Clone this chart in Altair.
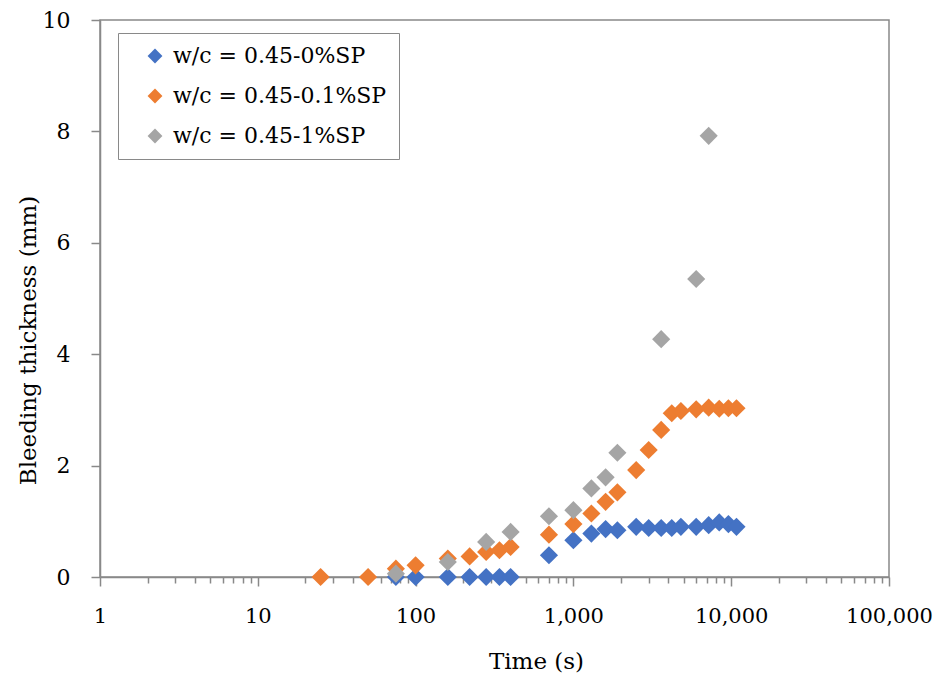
import altair as alt
import pandas as pd

# Bleeding thickness vs time, three superplasticiser dosages
series_names = ['w/c = 0.45-0%SP', 'w/c = 0.45-0.1%SP', 'w/c = 0.45-1%SP']
series_colors = ['#4472C4', '#ED7D31', '#A5A5A5']

time_0sp = [75, 100, 160, 220, 280, 340, 400, 700, 1000, 1300, 1600, 1900,
            2500, 3000, 3600, 4200, 4800, 6000, 7200, 8400, 9600, 10800]
bleed_0sp = [0, 0, 0, 0, 0, 0, 0, 0.39, 0.66, 0.78, 0.86, 0.84,
             0.90, 0.88, 0.88, 0.88, 0.90, 0.90, 0.93, 0.98, 0.95, 0.90]

time_01sp = [25, 50, 75, 100, 160, 220, 280, 340, 400, 700, 1000, 1300, 1600,
             1900, 2500, 3000, 3600, 4200, 4800, 6000, 7200, 8400, 9600, 10800]
bleed_01sp = [0, 0, 0.15, 0.21, 0.33, 0.37, 0.45, 0.48, 0.54, 0.76, 0.95, 1.14,
              1.35, 1.52, 1.92, 2.28, 2.64, 2.94, 2.98, 3.01, 3.04, 3.02, 3.03, 3.03]

time_1sp = [75, 160, 280, 400, 700, 1000, 1300, 1600, 1900, 3600, 6000, 7200]
bleed_1sp = [0.06, 0.27, 0.63, 0.81, 1.09, 1.20, 1.59, 1.79, 2.23, 4.27, 5.35, 7.92]

major_ticks = [1, 10, 100, 1000, 10000, 100000]
minor_ticks = [2, 3, 4, 5, 6, 7, 8, 9,
               20, 30, 40, 50, 60, 70, 80, 90,
               200, 300, 400, 500, 600, 700, 800, 900,
               2000, 3000, 4000, 5000, 6000, 7000, 8000, 9000,
               20000, 30000, 40000, 50000, 60000, 70000, 80000, 90000]

df = pd.concat([
    pd.DataFrame({'time': time_0sp, 'bleed': bleed_0sp, 'series': series_names[0]}),
    pd.DataFrame({'time': time_01sp, 'bleed': bleed_01sp, 'series': series_names[1]}),
    pd.DataFrame({'time': time_1sp, 'bleed': bleed_1sp, 'series': series_names[2]}),
], ignore_index=True)
df['order'] = df.index

font = 'DejaVu Serif'
axis_grey = '#898989'
major_test = 'indexof(' + str(major_ticks) + ', datum.value) >= 0'

chart = alt.Chart(df).mark_point(
    shape='diamond', filled=True, opacity=1, size=330, clip=False
).encode(
    x=alt.X('time:Q', title='Time (s)',
            scale=alt.Scale(type='log', domain=[1, 100000]),
            axis=alt.Axis(values=sorted(major_ticks + minor_ticks),
                          labelExpr=major_test + " ? format(datum.value, ',') : ''",
                          tickSize={'condition': {'test': major_test, 'value': 9}, 'value': 6},
                          labelOverlap=False, labelBound=False, labelFlush=False,
                          labelPadding=19, labelFontSize=21, grid=False,
                          titleX=436, titleY=84, titleBaseline='middle',
                          titleAlign='center')),
    y=alt.Y('bleed:Q', title='Bleeding thickness (mm)',
            scale=alt.Scale(domain=[0, 10], nice=False),
            axis=alt.Axis(values=[0, 2, 4, 6, 8, 10], tickSize=9,
                          labelPadding=21, grid=False,
                          titleX=-72, titleY=320, titleAngle=-90,
                          titleBaseline='middle', titleAlign='center')),
    color=alt.Color('series:N', sort=series_names,
                    scale=alt.Scale(domain=series_names, range=series_colors),
                    legend=alt.Legend(title=None, orient='none',
                                      legendX=18, legendY=13,
                                      strokeColor=axis_grey, padding=12,
                                      symbolType='diamond', symbolSize=220,
                                      symbolOffset=14, labelOffset=7,
                                      rowPadding=18, labelFontSize=22,
                                      labelFont=font, labelColor='#000000',
                                      labelLimit=400, fillColor='#ffffff')),
    order=alt.Order('order:Q'),
).properties(
    width=789,
    height=557,
    autosize=alt.AutoSizeParams(type='none'),
    padding={'left': 92, 'top': 12, 'right': 44, 'bottom': 100},
).configure_view(
    stroke=axis_grey, strokeWidth=1.5
).configure_axis(
    domainColor=axis_grey, domainWidth=1.5, tickColor=axis_grey, tickWidth=1.5,
    labelFont=font, labelFontSize=22, labelColor='#000000',
    titleFont=font, titleFontSize=23, titleColor='#000000', titleFontWeight='normal'
)

chart.save('out.html', embed_options={'renderer': 'svg', 'actions': False})
